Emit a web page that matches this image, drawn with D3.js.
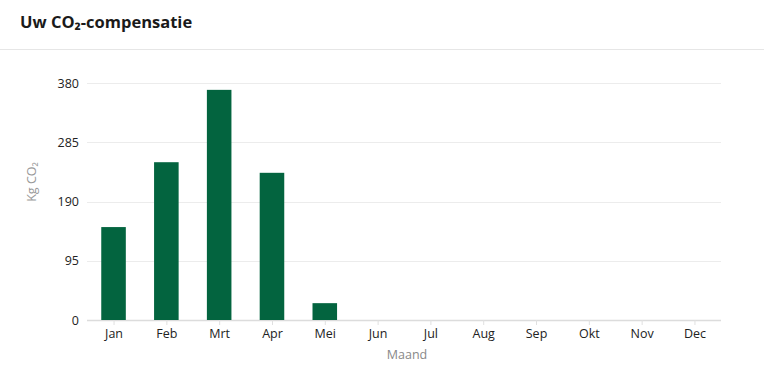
<!DOCTYPE html>
<html>
<head>
<meta charset="utf-8">
<script src="https://cdn.jsdelivr.net/npm/d3@7"></script>
<style>
body { margin: 0; background: #fff; }
svg { display: block; }
</style>
</head>
<body>
<svg width="764" height="380"></svg>
<script>
var Months = ["Jan", "Feb", "Mrt", "Apr", "Mei", "Jun", "Jul", "Aug", "Sep", "Okt", "Nov", "Dec"];
var Values = [149, 253, 369, 236, 27, 0, 0, 0, 0, 0, 0, 0];
var YTicks = [0, 95, 190, 285, 380];

var svg = d3.select("svg");
var font = "'Open Sans', sans-serif";

// Title and separator
svg.append("text")
   .attr("x", 20).attr("y", 28)
   .style("font-family", font)
   .style("font-weight", "bold")
   .style("font-size", "16.5px")
   .style("fill", "#1a1a1a")
   .text("Uw CO₂-compensatie");

svg.append("line")
   .attr("x1", 0).attr("x2", 764)
   .attr("y1", 49.5).attr("y2", 49.5)
   .style("stroke", "#e6e6e6");

var padding = {top:83, left:87, right:43, bottom:60};
var width = 764 - padding.left - padding.right;
var height = 320 - padding.top;

var xScale = d3.scaleBand().domain(Months).range([0, width]).paddingInner(0.535).paddingOuter(0.27);
var yScale = d3.scaleLinear().domain([0, 380]).range([height, 0]);

var g = svg.append("g").attr("transform", "translate("+padding.left+","+padding.top+")");

// Grid
g.selectAll("line.grid").data(YTicks).enter()
   .append("line")
   .attr("class", "grid")
   .attr("x1", 0).attr("x2", width)
   .attr("y1", function(d) { return Math.round(yScale(d)) + 0.5; })
   .attr("y2", function(d) { return Math.round(yScale(d)) + 0.5; })
   .style("stroke", function(d) { return d == 0 ? "#dcdcdc" : "#ececec"; })
   .style("stroke-width", function(d) { return d == 0 ? 1.5 : 1; });

// Bars
g.selectAll("rect").data(Months).enter()
   .append("rect")
   .attr("x", function(d) { return xScale(d); })
   .attr("width", xScale.bandwidth())
   .attr("y", function(d, i) { return yScale(Values[i]); })
   .attr("height", function(d, i) { return height - yScale(Values[i]); })
   .style("fill", "#03643f");

// Y axis
var yAxis = g.append("g")
   .call(d3.axisLeft(yScale).tickValues(YTicks).tickSize(0).tickPadding(8));
yAxis.select(".domain").remove();
yAxis.selectAll("text")
   .style("font-family", font)
   .style("font-size", "12.5px")
   .style("fill", "#222");

// X axis (centered on band)
var xPoint = d3.scalePoint().domain(Months).range([xScale.bandwidth()/2 + xScale(Months[0]), xScale(Months[11]) + xScale.bandwidth()/2]);
var xAxis = g.append("g")
   .attr("transform", "translate(0,"+height+")")
   .call(d3.axisBottom(xPoint).tickSize(5).tickPadding(4));
xAxis.select(".domain").remove();
xAxis.selectAll("line").style("stroke", "#e0e0e0");
xAxis.selectAll("text")
   .style("font-family", font)
   .style("font-size", "12.5px")
   .style("fill", "#222");

// Axis titles
svg.append("text")
   .attr("text-anchor", "middle")
   .attr("x", 407).attr("y", 359)
   .style("font-family", font)
   .style("font-size", "12.5px")
   .style("fill", "#888")
   .text("Maand");

svg.append("text")
   .attr("text-anchor", "middle")
   .attr("transform", "translate(36,182) rotate(-90)")
   .style("font-family", font)
   .style("font-size", "12.5px")
   .style("fill", "#999")
   .text("Kg CO₂");
</script>
</body>
</html>
